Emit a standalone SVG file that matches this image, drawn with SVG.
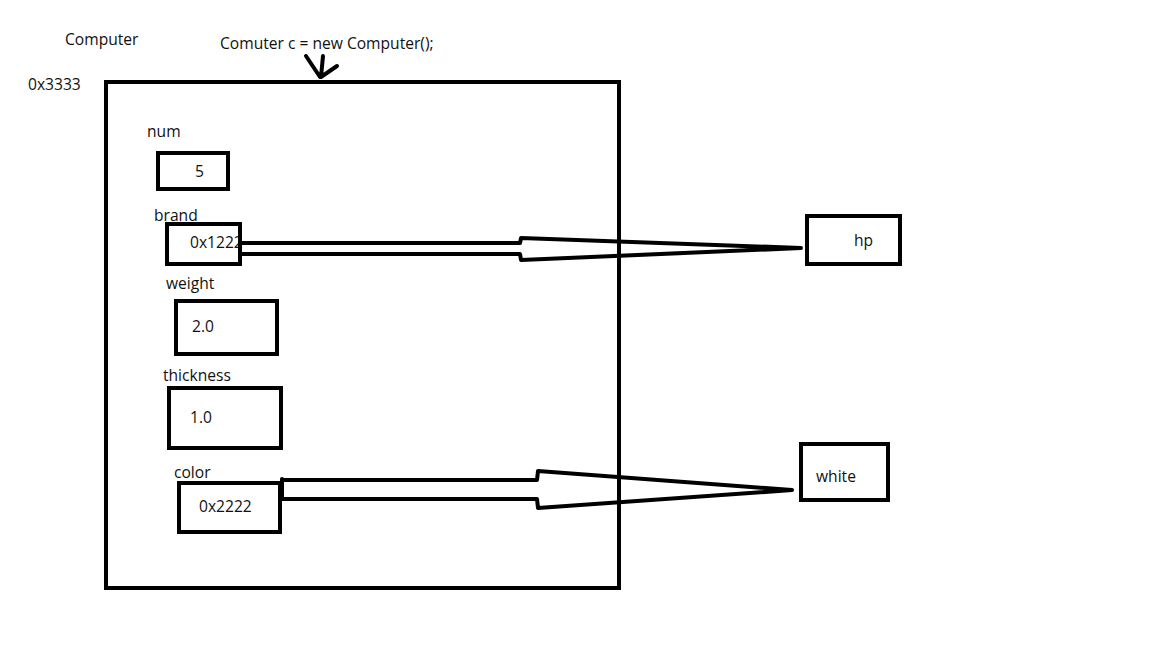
<svg xmlns="http://www.w3.org/2000/svg" width="1152" height="648" viewBox="0 0 1152 648">
  <style>
    .t { font-family: "Open Sans", "Noto Sans", "Liberation Sans", sans-serif; font-size: 15.6px; fill: #111; }
    .box { fill: none; stroke: #000; stroke-width: 4; }
    .ln { fill: none; stroke: #000; stroke-width: 4; stroke-linejoin: round; stroke-linecap: round; }
  </style>
  <rect width="1152" height="648" fill="#fff"/>

  <!-- headings -->
  <g id="headings">
    <text class="t" x="65" y="45">Computer</text>
    <text class="t" x="220" y="49">Comuter c = new Computer();</text>
    <text class="t" x="28" y="90">0x3333</text>
  </g>

  <!-- object frame -->
  <g id="object">
    <rect class="box" x="106" y="82" width="513" height="506"/>
  </g>

  <g id="num">
    <text class="t" x="147" y="137">num</text>
    <rect class="box" x="158" y="153" width="70" height="36"/>
    <text class="t" x="195" y="177">5</text>
  </g>

  <g id="brand">
    <text class="t" x="154" y="221">brand</text>
    <text class="t" x="190" y="248">0x1222</text>
    <rect class="box" x="167" y="224" width="73" height="40"/>
  </g>

  <g id="weight">
    <text class="t" x="166" y="289">weight</text>
    <rect class="box" x="176" y="301" width="101" height="53"/>
    <text class="t" x="192" y="332">2.0</text>
  </g>

  <g id="thickness">
    <text class="t" x="163" y="381">thickness</text>
    <rect class="box" x="169" y="388" width="112" height="60"/>
    <text class="t" x="190" y="423">1.0</text>
  </g>

  <g id="color">
    <text class="t" x="174" y="478">color</text>
    <rect class="box" x="179" y="483" width="101" height="49"/>
    <text class="t" x="199" y="512">0x2222</text>
  </g>

  <g id="hp">
    <rect class="box" x="807" y="216" width="93" height="48"/>
    <text class="t" x="854" y="246">hp</text>
  </g>

  <g id="white">
    <rect class="box" x="801" y="444" width="87" height="56"/>
    <text class="t" x="816" y="482">white</text>
  </g>

  <!-- connectors -->
  <g id="connectors">
    <path class="ln" d="M306,56 L320,77 M323,56 L321,77 M337,66 L321,77"/>
    <path class="ln" d="M242,243 L520,243 L521,238 L801,248 L521,260 L520,254 L242,254"/>
    <path class="ln" d="M282,479 L282,499 M282,480 L537,480 L538,471 L792,490 L538,508 L537,499 L282,499"/>
  </g>
</svg>
